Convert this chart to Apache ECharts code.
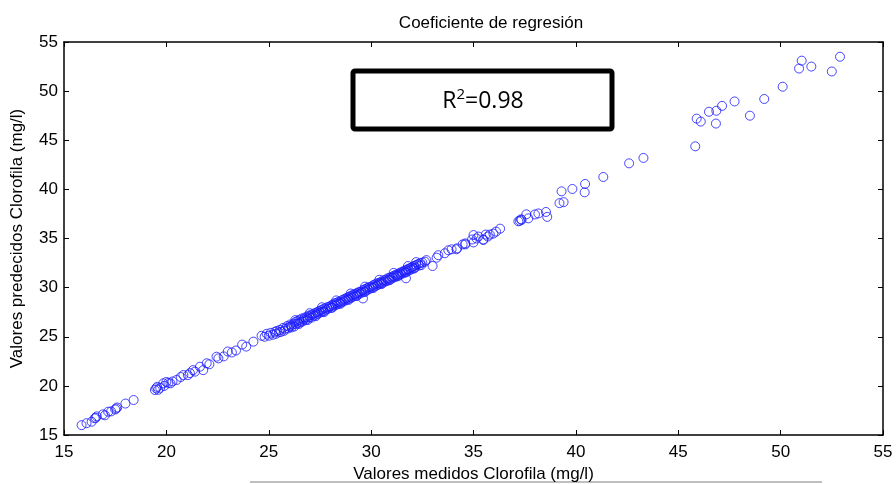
<!DOCTYPE html>
<html>
<head>
<meta charset="utf-8">
<script src="https://cdn.jsdelivr.net/npm/echarts@6/dist/echarts.min.js"></script>
<style>html,body{margin:0;padding:0;background:#fff;}#c{width:896px;height:484px;}</style>
</head>
<body>
<div id="c"></div>
<script>
// Tick values
var axisTicks = [15, 20, 25, 30, 35, 40, 45, 50, 55];
var lowGroup = [
  [15.86,16.0],[16.1,16.2],[16.35,16.35],[16.5,16.7],[16.6,16.9],[16.55,16.75],
  [16.9,17.1],[17.0,17.0],[17.16,17.37],[17.3,17.4],[17.5,17.6],[17.6,17.8],
  [17.55,17.7],[18.0,18.2],[18.4,18.56]
];
var midGroup = [
  [19.44,19.58],[19.5,19.75],[19.6,19.6],[19.7,19.8],[19.55,19.9],[19.85,20.26],
  [19.9,20.0],[20.0,20.4],[20.1,20.3],[20.2,20.26],[20.3,20.45],[20.5,20.6],
  [20.7,20.9],[20.83,21.1],[21.05,21.1],[21.15,21.3],[21.3,21.6],[21.4,21.45],
  [21.64,21.95],[21.8,21.6],[21.97,22.3],[22.1,22.2],[22.45,22.97],[22.54,22.8],
  [22.8,23.0],[23.0,23.5],[23.2,23.4],[23.4,23.6],[23.7,24.2],[23.9,24.0],
  [24.25,24.5],[24.65,25.1],[24.8,25.0],[24.9,25.3],[25.0,25.1]
];
var denseGroup = [
  [25.1,25.4],[25.2,25.2],[25.3,25.5],[25.35,25.3],[25.4,25.6],[25.5,25.45],
  [25.55,25.7],[25.6,25.5],[25.7,25.9],[25.75,25.6],[25.8,25.8],[25.9,26.1],
  [25.95,25.85],[26.0,26.0],[26.05,26.25],[26.1,26.1],[26.2,26.3],[26.25,26.05],
  [26.3,26.5],[26.35,26.3],[26.4,26.6],[26.45,26.4],[26.5,26.7],[26.55,26.5],
  [26.6,26.85],[26.65,26.55],[26.7,26.75],[26.75,26.95],[26.8,26.7],[26.85,27.0],
  [26.9,26.85],[26.95,27.15],[27.0,27.0],[27.05,27.2],[27.1,26.95],[27.15,27.3],
  [27.2,27.15],[27.25,27.4],[27.3,27.25],[27.35,27.5],[27.4,27.35],[27.45,27.6],
  [27.5,27.45],[27.55,27.7],[27.6,27.55],[27.65,27.8],[27.7,27.6],[27.75,27.9],
  [27.8,27.75],[27.85,28.0],[27.9,27.85],[27.95,28.05],[28.0,28.1],[28.05,27.95],
  [28.1,28.25],[28.15,28.15],[28.2,28.4],[28.25,28.2],[28.3,28.45],[28.35,28.3],
  [28.4,28.55],[28.45,28.4],[28.5,28.6],[28.55,28.5],[28.6,28.75],[28.65,28.6],
  [28.7,28.85],[28.75,28.7],[28.8,28.95],[28.85,28.8],[28.9,29.05],[28.95,28.9],
  [29.0,29.15],[29.05,29.0],[29.1,29.25],[29.15,29.1],[29.2,29.35],[29.25,29.2],
  [29.3,29.45],[29.35,29.3],[29.4,29.55],[29.45,29.4],[29.5,29.6],[29.55,29.5],
  [29.6,28.9],[29.6,29.75],[29.65,29.6],[29.7,29.85],[29.75,29.7],[29.8,29.95],
  [29.85,29.8],[29.9,30.05],[29.95,29.9],[30.0,30.1],[30.05,30.0],[30.1,30.25],
  [30.15,30.1],[30.2,30.35],[30.25,30.2],[30.3,30.45],[30.35,30.3],[30.4,30.5],
  [30.45,30.4],[30.5,30.6],[30.55,30.45],[30.6,30.75],[30.65,30.6],[30.7,30.8],
  [30.75,30.65],[30.8,30.95],[30.85,30.8],[30.9,31.0],[30.95,30.85],[31.0,31.1],
  [31.05,31.0],[31.1,31.2],[31.15,31.05],[31.2,31.3],[31.25,31.2],[31.3,31.4],
  [31.35,31.25],[31.4,31.5],[31.45,31.35],[31.5,31.6],[31.55,31.45],[31.6,31.7],
  [31.7,30.95],[31.65,31.55],[31.7,31.8],[31.75,31.65],[31.8,31.9],[31.85,31.75],
  [31.9,32.0],[31.95,31.85],[32.0,32.1],[32.05,31.95],[32.1,32.2],[32.15,32.05],
  [32.2,32.3],[32.3,32.4],[32.35,32.25],[32.4,32.5],[32.5,32.55],[32.63,32.64],
  [32.7,32.8],
  [26.12,25.95],[26.48,26.3],[26.9,26.7],[27.3,27.1],[27.7,27.5],[28.1,27.95],
  [28.5,28.35],[28.9,28.75],[29.3,29.15],[29.7,29.55],[30.1,29.95],[30.5,30.35],
  [30.9,30.75],[31.3,31.15],[31.7,31.55],[32.1,31.95],[32.45,32.3],
  [26.3,26.7],[27.0,27.4],[27.6,28.0],[28.3,28.7],[29.0,29.4],[29.7,30.1],
  [30.4,30.8],[31.1,31.5],[31.8,32.2],[32.2,32.6]
];
var upperGroup = [
  [33.0,32.2],[33.2,33.05],[33.28,33.3],[33.6,33.5],[33.77,33.8],[33.93,33.9],
  [34.17,33.9],[34.2,34.0],[34.47,34.4],[34.6,34.4],[34.6,34.5],[34.93,34.9],
  [35.0,35.35],[35.0,34.6],[35.15,35.0],[35.24,35.2],[35.48,34.9],[35.48,34.85],
  [35.6,35.4],[35.7,35.2],[35.8,35.4],[35.97,35.5],[36.1,35.7],[36.3,36.0],
  [37.19,36.75],[37.26,36.8],[37.32,36.95],[37.35,36.9],[37.58,37.46],[37.68,37.05],
  [38.0,37.45],[38.17,37.55],[38.54,37.7],[38.6,37.2],[39.2,38.6],[39.4,38.7],
  [39.3,39.8],[39.83,40.04],[40.43,39.7],[40.45,40.55],[41.34,41.26],[42.6,42.65],
  [43.3,43.2]
];
var highGroup = [
  [45.83,44.38],[45.9,47.2],[46.1,46.9],[46.5,47.9],[46.84,46.7],[46.86,48.0],
  [47.14,48.5],[47.75,48.95],[48.5,47.5],[49.2,49.2],[50.1,50.45],[50.9,52.3],
  [51.03,53.1],[51.5,52.5],[52.5,52.0],[52.9,53.5]
];
var allPoints = lowGroup.concat(midGroup, denseGroup, upperGroup, highGroup);

var chart = echarts.init(document.getElementById('c'), null, {renderer: 'canvas'});
var FONT = '"Liberation Sans", Arial, sans-serif';
var axisLineStyle = {color: '#000', width: 1.5};
function baseAxis(extra) {
  var a = {
    type: 'value', min: axisTicks[0], max: axisTicks[axisTicks.length - 1], interval: 5,
    splitLine: {show: false},
    axisLine: {show: true, onZero: false, lineStyle: axisLineStyle},
    axisTick: {show: true, inside: true, length: 5, lineStyle: {color: '#000', width: 1}},
    axisLabel: {show: true, color: '#000', fontSize: 17, fontFamily: FONT, margin: 6}
  };
  for (var k in extra) a[k] = extra[k];
  return a;
}
var option = {
  backgroundColor: '#fff',
  animation: false,
  title: {
    text: 'Coeficiente de regresión',
    left: 486, top: 10, textAlign: 'center',
    textStyle: {fontSize: 17, fontWeight: 'normal', color: '#000', fontFamily: FONT}
  },
  grid: {left: 64, right: 13, top: 42, bottom: 49, containLabel: false, outerBoundsMode: 'none'},
  xAxis: [
    baseAxis({position: 'bottom', name: 'Valores medidos Clorofila (mg/l)', nameLocation: 'middle', nameGap: 24,
      nameTextStyle: {fontSize: 17, color: '#000', fontFamily: FONT},
      axisLabel: {show: true, color: '#000', fontSize: 17, fontFamily: FONT, margin: 9}}),
    baseAxis({position: 'top', axisLabel: {show: false}})
  ],
  yAxis: [
    baseAxis({position: 'left', name: 'Valores predecidos Clorofila (mg/l)', nameLocation: 'middle', nameGap: 38,
      nameRotate: 90, nameTextStyle: {fontSize: 17, color: '#000', fontFamily: FONT}}),
    baseAxis({position: 'right', axisLabel: {show: false}})
  ],
  series: [{
    type: 'scatter',
    xAxisIndex: 0, yAxisIndex: 0,
    data: allPoints,
    symbol: 'circle',
    symbolSize: 9,
    itemStyle: {color: 'rgba(0,0,0,0)', borderColor: '#1a1aff', borderWidth: 1}
  }],
  graphic: [
    {type: 'rect', shape: {x: 353, y: 71, width: 259, height: 58, r: 2},
     style: {fill: '#fff', stroke: '#000', lineWidth: 5}, z: 100},
    {type: 'text', x: 483, y: 101, z: 101,
     style: {text: '{a|R}{s|2}{a|=0.98}', align: 'center', verticalAlign: 'middle',
       rich: {
         a: {fontSize: 23, fontFamily: '"Open Sans", "Noto Sans", sans-serif', color: '#000'},
         s: {fontSize: 15, fontFamily: '"Open Sans", "Noto Sans", sans-serif', color: '#000', verticalAlign: 'top', padding: [0, 0, 12, 0]}
       }}},
    {type: 'line', shape: {x1: 250, y1: 482, x2: 822, y2: 482},
     style: {stroke: '#aaaaaa', lineWidth: 1.5}}
  ]
};
chart.setOption(option);
</script>
</body>
</html>
